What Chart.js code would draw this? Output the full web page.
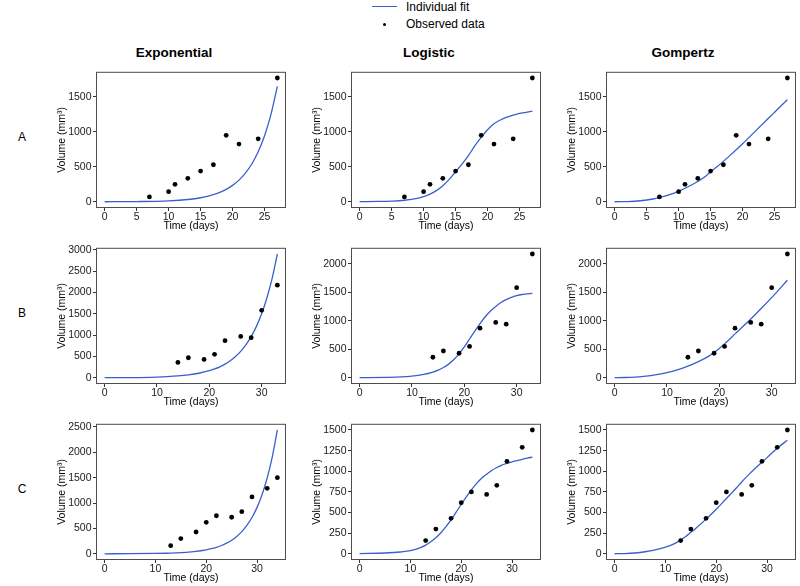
<!DOCTYPE html>
<html>
<head>
<meta charset="utf-8">
<script src="https://cdn.jsdelivr.net/npm/chart.js@4.4.0/dist/chart.umd.min.js"></script>
<style>
  body { margin: 0; background: #fff; width: 800px; height: 586px; position: relative; overflow: hidden;
         font-family: "Liberation Sans", Arial, sans-serif; }
  .box { position: absolute; width: 234px; height: 168px; }
  .t { position: absolute; color: #000; white-space: nowrap; transform: translate(-50%, -50%); }
  .lg { position: absolute; font-size: 12px; color: #000; white-space: nowrap; transform: translateY(-50%); }
  .col { font-weight: bold; font-size: 13.5px; }
  .row { font-size: 12px; }
</style>
</head>
<body>
<div style="position:absolute;left:372px;top:6px;width:25px;border-top:1.5px solid #3A5FCD"></div>
<div style="position:absolute;left:383px;top:22.5px;width:3px;height:3px;border-radius:50%;background:#000"></div>
<div class="lg" style="left:406px;top:7px">Individual fit</div>
<div class="lg" style="left:406px;top:24px">Observed data</div>

<div class="t col" style="left:174px;top:52px">Exponential</div>
<div class="t col" style="left:429px;top:52px">Logistic</div>
<div class="t col" style="left:683px;top:52px">Gompertz</div>
<div class="t row" style="left:22px;top:137px">A</div>
<div class="t row" style="left:22px;top:313px">B</div>
<div class="t row" style="left:22px;top:489px">C</div>

<div id="grid"></div>

<script>
// observed tumour volumes
const daysA = [7, 10, 11, 13, 15, 17, 19, 21, 24, 27];
const volA = [70, 145, 250, 335, 440, 530, 950, 825, 900, 1770];
const daysB = [14, 16, 19, 21, 23, 26, 28, 30, 33];
const volB = [360, 470, 430, 550, 870, 970, 940, 1580, 2170];
const daysC = [13, 15, 18, 20, 22, 25, 27, 29, 32, 34];
const volC = [160, 300, 430, 620, 750, 720, 830, 1120, 1290, 1500];

// fitted curves
const expA_t = [0, 5, 10, 13, 15, 17, 18, 19, 20, 21, 22, 23, 24, 25, 26, 27];
const expA_v = [1, 3.5, 14, 33, 58, 102, 135, 178, 235, 310, 410, 540, 715, 945, 1250, 1650];
const logA_t = [0, 3, 5, 7, 9, 10, 11, 12, 13, 14, 15, 16, 17, 18, 19, 20, 21, 22, 23, 24, 25, 26, 27];
const logA_v = [2, 5, 10, 22, 50, 75, 110, 160, 230, 320, 430, 540, 660, 800, 920, 1030, 1115, 1170, 1210, 1240, 1265, 1280, 1295];
const gomA_t = [0, 2, 4, 6, 7, 8, 10, 12, 14, 15, 16, 18, 20, 22, 24, 25, 27];
const gomA_v = [1, 4, 15, 40, 60, 85, 150, 240, 350, 430, 500, 660, 830, 1010, 1190, 1280, 1460];

const expB_t = [0, 5, 10, 12, 14, 16, 18, 20, 21, 22, 23, 24, 25, 26, 27, 28, 29, 30, 31, 32, 33];
const expB_v = [2, 6, 18, 28, 44, 69, 107, 166, 207, 258, 320, 400, 500, 620, 775, 965, 1205, 1500, 1870, 2330, 2900];
const logB_t = [0, 5, 8, 10, 12, 14, 15, 16, 17, 18, 19, 20, 21, 22, 23, 24, 25, 26, 27, 28, 29, 30, 31, 32, 33];
const logB_v = [2, 7, 15, 30, 55, 100, 135, 180, 240, 320, 420, 540, 680, 820, 950, 1070, 1170, 1250, 1320, 1370, 1410, 1440, 1460, 1470, 1480];
const gomB_t = [0, 2, 4, 6, 8, 10, 12, 14, 16, 18, 20, 21, 22, 23, 24, 26, 28, 30, 33];
const gomB_v = [2, 5, 13, 28, 55, 90, 140, 205, 285, 380, 515, 595, 680, 770, 855, 1030, 1215, 1405, 1710];

const expC_t = [0, 5, 10, 12, 14, 16, 18, 20, 21, 22, 23, 24, 25, 26, 27, 28, 29, 30, 31, 32, 33, 34];
const expC_v = [0.6, 2, 7, 11, 18, 29, 48, 79, 100, 128, 164, 210, 268, 343, 438, 560, 716, 915, 1170, 1495, 1910, 2440];
const logC_t = [0, 5, 8, 10, 12, 13, 14, 15, 16, 17, 18, 19, 20, 21, 22, 23, 24, 25, 26, 27, 28, 29, 30, 31, 32, 33, 34];
const logC_v = [3, 10, 22, 38, 75, 105, 145, 195, 255, 330, 410, 505, 600, 690, 775, 850, 915, 965, 1010, 1045, 1075, 1095, 1115, 1130, 1145, 1160, 1170];
const gomC_t = [0, 2, 4, 6, 8, 10, 12, 14, 15, 16, 18, 20, 22, 24, 25, 26, 28, 30, 32, 34];
const gomC_v = [1, 3, 10, 25, 48, 80, 130, 210, 260, 310, 420, 540, 670, 800, 870, 935, 1055, 1165, 1280, 1375];

// tick labels
const xTicksA = [0, 5, 10, 15, 20, 25];
const xTicksBC = [0, 10, 20, 30];
const yTicksA = [0, 500, 1000, 1500];
const yTicksBexp = [0, 500, 1000, 1500, 2000, 2500, 3000];
const yTicksB = [0, 500, 1000, 1500, 2000];
const yTicksCexp = [0, 500, 1000, 1500, 2000, 2500];
const yTicksC = [0, 250, 500, 750, 1000, 1250, 1500];

const colLeft = [96, 351, 606];
const rowTop = [66, 242, 418];

const frame = {
  id: 'frame',
  afterDraw(c) {
    const { ctx, chartArea: a } = c;
    ctx.save();
    ctx.strokeStyle = '#4d4d4d';
    ctx.lineWidth = 1;
    ctx.strokeRect(a.left + 0.5, a.top + 0.5, a.width - 1, a.height - 1);
    ctx.restore();
  }
};

function panel(col, row, days, vol, fitT, fitV, xTicks, yTicks) {
  const box = document.createElement('div');
  box.className = 'box';
  box.style.left = (colLeft[col] - 40) + 'px';
  box.style.top = (rowTop[row] - 2) + 'px';
  const cv = document.createElement('canvas');
  cv.width = 234; cv.height = 168;
  box.appendChild(cv);
  document.getElementById('grid').appendChild(box);

  const xMax = Math.max(...days, ...fitT);
  const yMax = Math.max(...vol, ...fitV);
  const tickFont = { family: '"Liberation Sans", Arial, sans-serif', size: 10.5 };
  const titleFont = { family: '"Liberation Sans", Arial, sans-serif', size: 10.5 };
  const grid = { display: true, drawOnChartArea: false, tickLength: 3, color: '#333', lineWidth: 1 };

  new Chart(cv, {
    data: {
      datasets: [
        { type: 'scatter', label: 'Observed data', data: days.map((d, i) => ({ x: d, y: vol[i] })),
          pointRadius: 2.4, pointBackgroundColor: '#000', pointBorderWidth: 0 },
        { type: 'line', label: 'Individual fit', data: fitT.map((d, i) => ({ x: d, y: fitV[i] })),
          borderColor: '#3A5FCD', borderWidth: 1.3, pointRadius: 0, cubicInterpolationMode: 'monotone', fill: false }
      ]
    },
    options: {
      responsive: false,
      animation: false,
      devicePixelRatio: 1,
      layout: { padding: { left: 0, top: 2, right: 2, bottom: 0 } },
      plugins: { legend: { display: false }, tooltip: { enabled: false } },
      scales: {
        x: {
          type: 'linear', min: -0.05 * xMax, max: 1.05 * xMax,
          afterBuildTicks: s => { s.ticks = xTicks.map(v => ({ value: v })); },
          afterFit: s => { s.height = 24; },
          ticks: { font: tickFont, color: '#1a1a1a', padding: 0, maxRotation: 0, callback: v => String(v) },
          grid: grid, border: { display: false },
          title: { display: true, text: 'Time (days)', font: titleFont, color: '#000', padding: 0 }
        },
        y: {
          type: 'linear', min: -0.05 * yMax, max: 1.05 * yMax,
          afterBuildTicks: s => { s.ticks = yTicks.map(v => ({ value: v })); },
          afterFit: s => { s.width = 40; },
          ticks: { font: tickFont, color: '#1a1a1a', padding: 1.5, callback: v => String(v) },
          grid: grid, border: { display: false },
          title: { display: true, text: 'Volume (mm³)', font: titleFont, color: '#000', padding: 0 }
        }
      }
    },
    plugins: [frame]
  });
}

panel(0, 0, daysA, volA, expA_t, expA_v, xTicksA, yTicksA);
panel(1, 0, daysA, volA, logA_t, logA_v, xTicksA, yTicksA);
panel(2, 0, daysA, volA, gomA_t, gomA_v, xTicksA, yTicksA);
panel(0, 1, daysB, volB, expB_t, expB_v, xTicksBC, yTicksBexp);
panel(1, 1, daysB, volB, logB_t, logB_v, xTicksBC, yTicksB);
panel(2, 1, daysB, volB, gomB_t, gomB_v, xTicksBC, yTicksB);
panel(0, 2, daysC, volC, expC_t, expC_v, xTicksBC, yTicksCexp);
panel(1, 2, daysC, volC, logC_t, logC_v, xTicksBC, yTicksC);
panel(2, 2, daysC, volC, gomC_t, gomC_v, xTicksBC, yTicksC);
</script>
</body>
</html>
